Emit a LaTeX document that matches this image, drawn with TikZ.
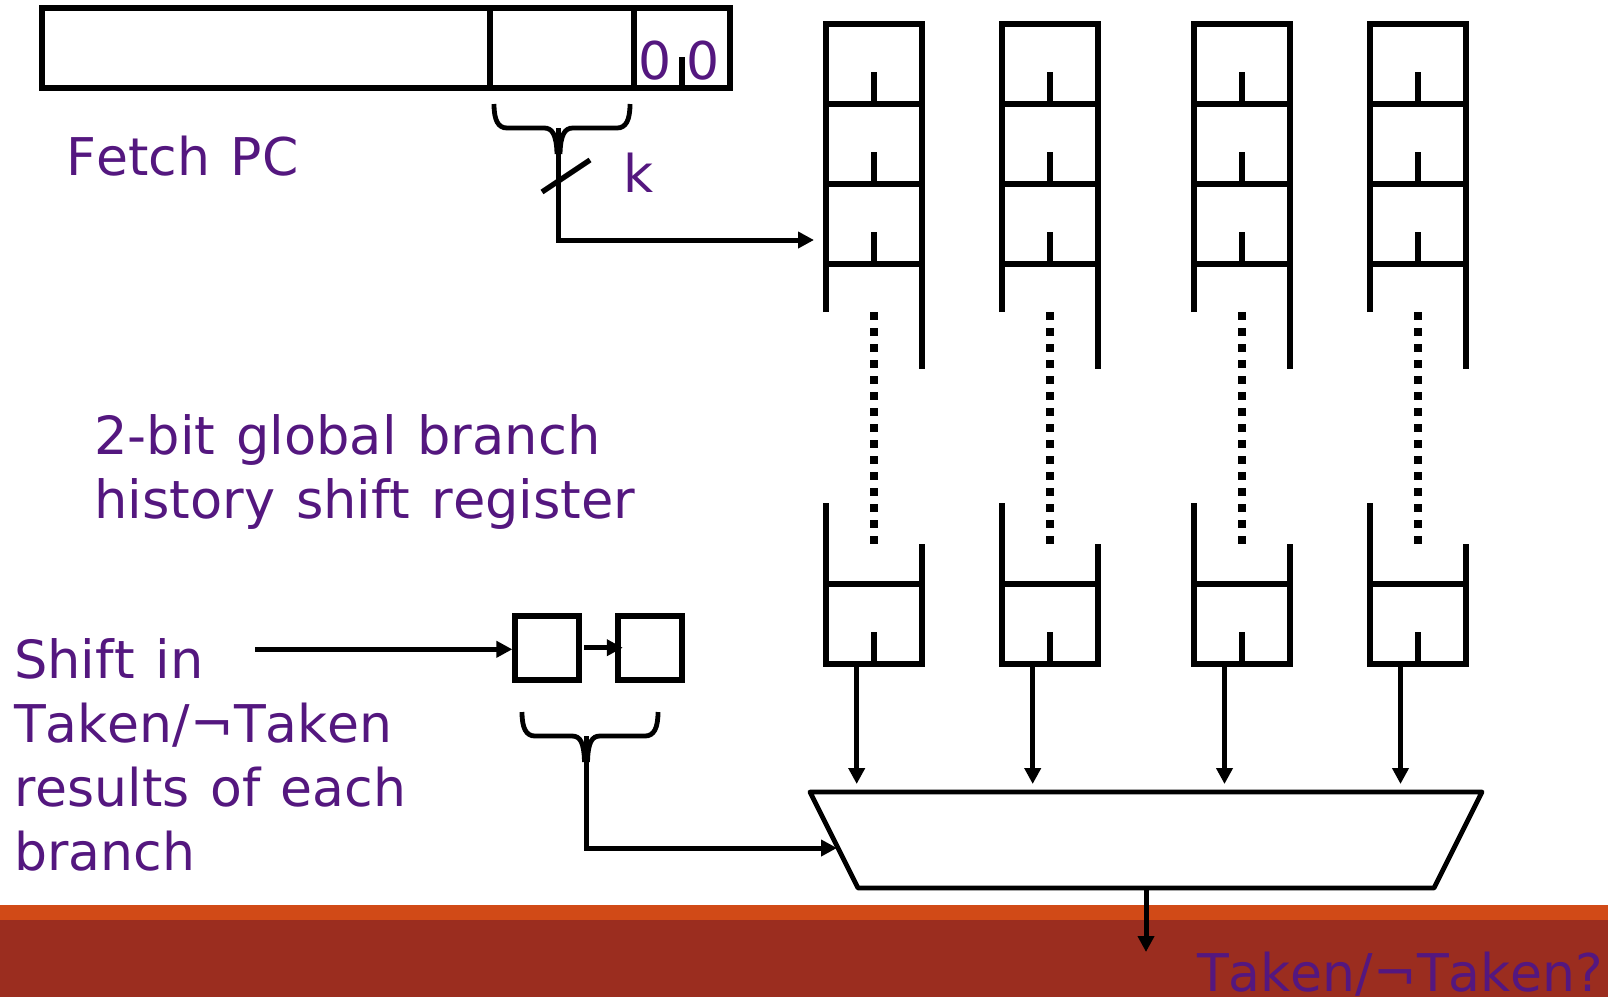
\documentclass[tikz,border=0pt]{standalone}
\usepackage{fontspec}
\setmainfont[Kerning=Off,WordSpace=1.25]{DejaVu Sans}
\usetikzlibrary{arrows.meta}
\definecolor{ptxt}{HTML}{54177F}
\definecolor{barO}{HTML}{D14A17}
\definecolor{barR}{HTML}{9B2D1F}
\tikzset{
  x=1pt,y=-1pt,
  wire/.style={line width=5.3pt,black,line join=miter},
  thin wire/.style={line width=4.8pt,black},
  arr/.style={line width=5pt,black,-{Triangle[length=16pt,width=16pt]}},
  lbl/.style={text=ptxt,font=\fontsize{52}{64}\selectfont,inner sep=0pt,anchor=base west,align=left},
  lblw/.style={lbl,font=\fontsize{52.6}{64}\selectfont},
  dots/.style={line width=8pt,black,dash pattern=on 8pt off 8pt},
  hbox/.style={draw,line width=5.3pt,minimum width=64pt,minimum height=64pt,inner sep=0pt},
}
\newcommand{\regcol}[1]{%
  \draw[wire] (#1-48,312) -- (#1-48,24) -- (#1+48,24) -- (#1+48,369);
  \foreach \yy in {104,184,264}{
    \draw[wire] (#1-50,\yy) -- (#1+50,\yy);
    \draw[wire] (#1,\yy) -- (#1,\yy-32);
  }
  \draw[dots] (#1,312) -- (#1,544);
  \draw[wire] (#1-48,503) -- (#1-48,664) -- (#1+48,664) -- (#1+48,544);
  \draw[wire] (#1-50,584) -- (#1+50,584);
  \draw[wire] (#1,664) -- (#1,632);
}
\begin{document}
\begin{tikzpicture}
\useasboundingbox (0,0) rectangle (1608,997);
\fill[white] (0,0) rectangle (1608,997);
\fill[barO] (0,905) rectangle (1608,920);
\fill[barR] (0,920) rectangle (1608,997);
% PC register
\draw[wire] (42,8) rectangle (730,88);
\draw[wire] (490,8) -- (490,88);
\draw[wire] (634,8) -- (634,88);
\draw[wire] (682,57) -- (682,88);
\node[lbl] (z1) at (638.5,79) {0};
\node[lbl] (z2) at (686,79) {0};
\node[lbl] (fetch) at (66,175) {Fetch PC};
\node[lbl] (k) at (623,192) {k};
% brace to index
\draw[thin wire] (494,104) .. controls (494,120) and (498,128) .. (507,128) -- (544,128) .. controls (552,128) and (556.5,134) .. (557,154);
\draw[thin wire] (630,104) .. controls (630,120) and (626,128) .. (617,128) -- (573,128) .. controls (565,128) and (560.5,134) .. (560,154);
\coordinate (ca) at (814,240);
\draw[arr] (558.5,128) -- (558.5,240) -- (ca);
\draw[wire] (542,192) -- (590,160);
% stacks
\regcol{874}
\regcol{1050}
\regcol{1242}
\regcol{1418}
% mux
\draw[thin wire,line join=round] (810,792) -- (1482,792) -- (1434,888) -- (858,888) -- cycle;
\coordinate (mt1) at (856.7,784);
\coordinate (mt2) at (1032.7,784);
\coordinate (mt3) at (1224.5,784);
\coordinate (mt4) at (1400.5,784);
\draw[arr] (856.7,664) -- (mt1);
\draw[arr] (1032.7,664) -- (mt2);
\draw[arr] (1224.5,664) -- (mt3);
\draw[arr] (1400.5,664) -- (mt4);
\coordinate (out) at (1146,952);
\draw[arr] (1146,888) -- (out);
% history
\node[hbox] (h1) at (547,648) {};
\node[hbox] (h2) at (650,648) {};
\coordinate (s) at (255,649.3);
\draw[arr] (s) -- (h1.west |- s);
\coordinate (hs) at (584,647.7);
\draw[arr] (hs) -- ([xshift=7.4pt]h2.west |- hs);
\draw[thin wire] (522,712) .. controls (522,728) and (526,736) .. (535,736) -- (572,736) .. controls (580,736) and (584,742) .. (584.5,762);
\draw[thin wire] (658,712) .. controls (658,728) and (654,736) .. (645,736) -- (600,736) .. controls (592,736) and (588,742) .. (587.5,762);
\coordinate (mi) at (837,848);
\draw[arr] (586,736) -- (586,848) -- (mi);
% text
\node[lblw] (t1) at (94,454) {2-bit global branch};
\node[lblw] (t2) at (94,518) {history shift register};
\node[lblw] (s1) at (14,678) {Shift in};
\node[lbl] (s2) at (14,742) {Taken/¬Taken};
\node[lbl] (s3) at (14,806) {results of each};
\node[lbl] (s4) at (14,870) {branch};
\node[lbl] (res) at (1197,991) {Taken/¬Taken?};
\end{tikzpicture}
\end{document}
